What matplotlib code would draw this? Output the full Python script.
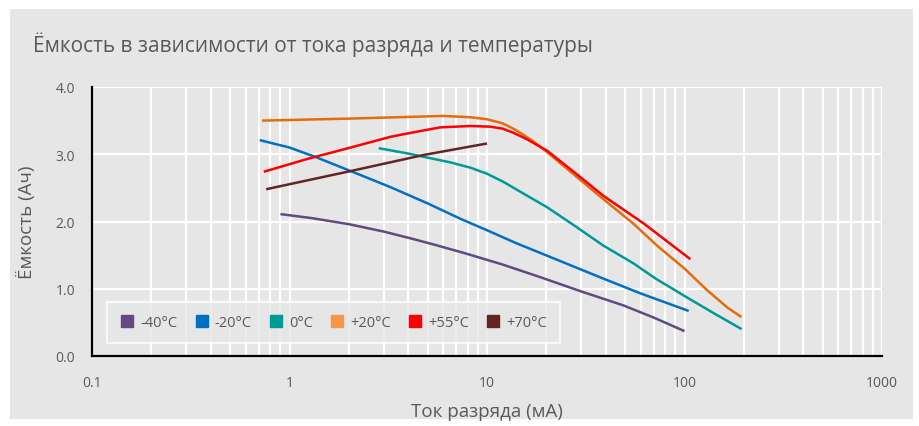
import matplotlib
matplotlib.use("Agg")
import matplotlib.pyplot as plt
from matplotlib.patches import Rectangle
from matplotlib.lines import Line2D

plt.rcParams['font.family'] = ['Open Sans', 'DejaVu Sans']

title = "Ёмкость в зависимости от тока разряда и температуры"
x_label = "Ток разряда (мА)"
y_label = "Ёмкость (Ач)"
series_names = ["-40°C", "-20°C", "0°C", "+20°C", "+55°C", "+70°C"]

x_m40 = [0.90, 1.3, 2.0, 3.0, 4.1, 5.5, 7.9, 12, 18.7, 30, 49.3, 70, 100]
y_m40 = [2.11, 2.05, 1.96, 1.85, 1.75, 1.65, 1.52, 1.36, 1.17, 0.96, 0.75, 0.57, 0.37]

x_m20 = [0.707, 1.0, 1.38, 2.04, 3.25, 5.0, 7.34, 10, 14, 20.2, 38.9, 60, 105]
y_m20 = [3.21, 3.10, 2.95, 2.75, 2.51, 2.27, 2.04, 1.87, 1.68, 1.49, 1.15, 0.93, 0.67]

x_0 = [2.83, 4.0, 5.0, 6.5, 8.25, 10, 12.1, 15, 20.2, 28, 38.9, 55, 71.5, 103, 140, 194.6]
y_0 = [3.09, 3.01, 2.95, 2.88, 2.80, 2.71, 2.59, 2.43, 2.21, 1.93, 1.64, 1.38, 1.15, 0.87, 0.64, 0.40]

x_20 = [0.727, 2.0, 4.0, 6.0, 8.25, 10, 12, 14, 17, 20.2, 28, 38.9, 55, 72.7, 100, 130, 165, 194]
y_20 = [3.50, 3.53, 3.555, 3.57, 3.55, 3.52, 3.46, 3.36, 3.20, 3.03, 2.68, 2.33, 1.97, 1.64, 1.30, 0.98, 0.72, 0.58]

x_55 = [0.741, 1.23, 2.04, 3.25, 4.5, 5.8, 8.25, 10.4, 12, 13.6, 16, 20.2, 28, 38.9, 62.2, 107]
y_55 = [2.74, 2.93, 3.10, 3.26, 3.34, 3.40, 3.42, 3.41, 3.38, 3.32, 3.22, 3.05, 2.72, 2.38, 1.97, 1.44]

x_70 = [0.762, 2.04, 4.79, 10.0]
y_70 = [2.48, 2.75, 2.99, 3.16]

line_colors = ["#5F4B7F", "#0070C0", "#009A96", "#E46C0A", "#FF0000", "#632523"]
legend_colors = ["#5F4B7F", "#0070C0", "#009A96", "#F79646", "#FF0000", "#632523"]

bg = "#E6E6E6"
fig = plt.figure(figsize=(9.2, 4.27), dpi=100)
fig.patch.set_facecolor("white")
fig.patches.append(Rectangle((10/920, 1-420/427), 903/920, 410/427,
                             transform=fig.transFigure, facecolor=bg,
                             edgecolor="none", zorder=-10))

ax = fig.add_axes([92/920, 1-357/427, 790/920, 269/427])
ax.set_facecolor(bg)
ax.set_xscale("log")
ax.set_xlim(0.1, 1000)
ax.set_ylim(0, 4)

xs = [x_m40, x_m20, x_0, x_20, x_55, x_70]
ys = [y_m40, y_m20, y_0, y_20, y_55, y_70]
for x, y, c in zip(xs, ys, line_colors):
    ax.plot(x, y, color=c, lw=1.8, solid_capstyle="butt",
            solid_joinstyle="round", zorder=3)

ax.set_yticks([0, 1, 2, 3, 4])
ax.set_yticklabels(["0.0", "1.0", "2.0", "3.0", "4.0"])
ax.set_xticks([0.1, 1, 10, 100, 1000])
ax.set_xticklabels(["0.1", "1", "10", "100", "1000"])
ax.grid(True, which="major", color="white", lw=1.6, zorder=0)
ax.grid(True, which="minor", axis="x", color="white", lw=1.6, zorder=0)
ax.tick_params(which="both", length=0, colors="#595959", labelsize=10)
ax.tick_params(axis="y", pad=12)
ax.tick_params(axis="x", pad=14)
for s in ["top", "right"]:
    ax.spines[s].set_visible(False)
for s in ["left", "bottom"]:
    ax.spines[s].set_color("black")
    ax.spines[s].set_linewidth(1.6)
    ax.spines[s].set_zorder(5)

ax.set_xlabel(x_label, fontsize=13.5, color="#595959", labelpad=8)
ax.set_ylabel(y_label, fontsize=13.5, color="#595959", labelpad=14)

fig.text(33/920, 1-45/427, title, fontsize=15, color="#595959", va="center", ha="left")

handles = [Line2D([], [], marker="s", ls="none", markersize=9,
                  markerfacecolor=c, markeredgecolor=c) for c in legend_colors]
leg = ax.legend(handles, series_names, loc="lower left", ncol=6,
                bbox_to_anchor=(15/790, 13/269), frameon=True, fontsize=10.5,
                handletextpad=0.4, columnspacing=1.15, borderpad=0.9,
                handlelength=1.0, borderaxespad=0)
leg.get_frame().set_facecolor(bg)
leg.get_frame().set_edgecolor("white")
leg.get_frame().set_linewidth(1.6)
leg.get_frame().set_boxstyle("square", pad=0)
for t in leg.get_texts():
    t.set_color("#595959")

fig.savefig("out.png", dpi=100, facecolor=fig.get_facecolor())
